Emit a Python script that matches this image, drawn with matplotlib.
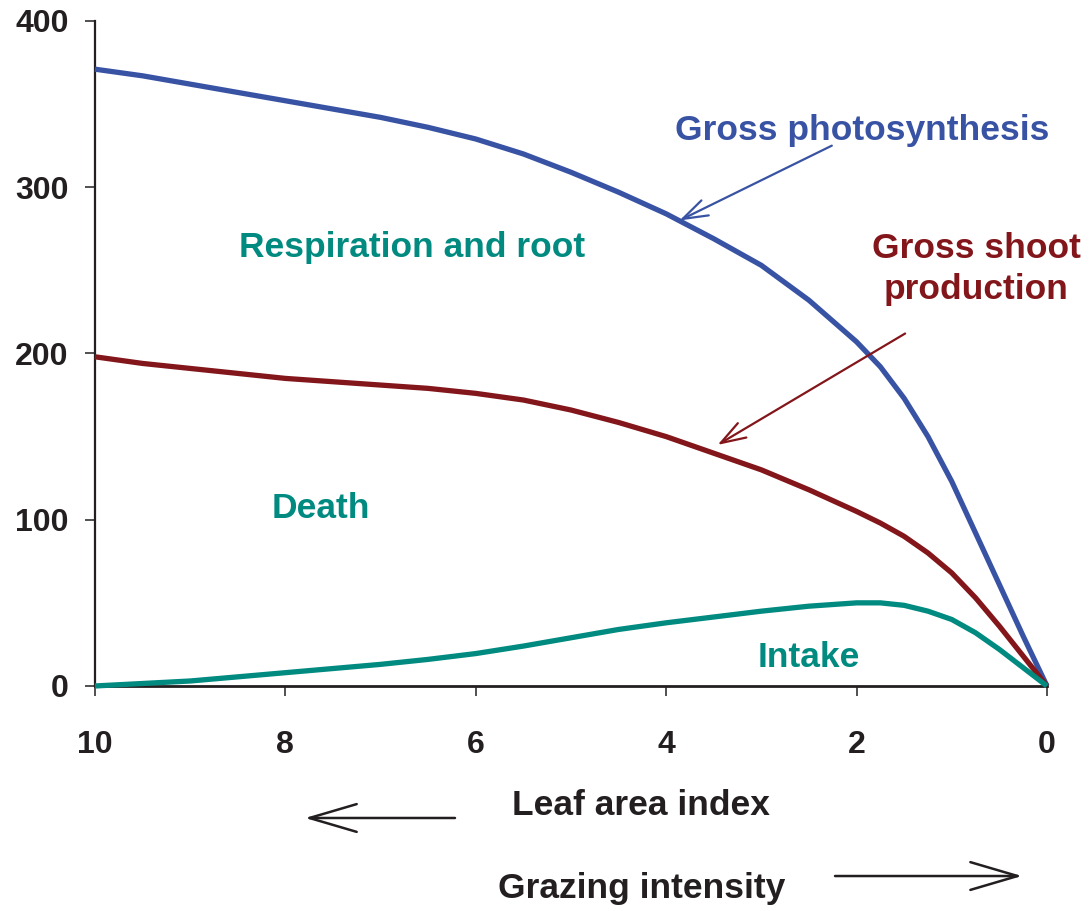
import matplotlib
matplotlib.use("Agg")
import matplotlib.pyplot as plt

plt.rcParams["font.family"] = ["Liberation Sans", "DejaVu Sans"]
plt.rcParams["font.weight"] = "bold"

# values
lai = [10, 9.5, 9, 8.5, 8, 7.5, 7, 6.5, 6, 5.5, 5, 4.5, 4, 3.5, 3, 2.5, 2,
       1.75, 1.5, 1.25, 1.0, 0.75, 0.5, 0.25, 0]
gross_photosynthesis = [371, 367, 362, 357, 352, 347, 342, 336, 329, 320, 309,
                        297, 284, 269, 253, 232, 207, 192, 173, 150, 123, 92,
                        61, 30, 0]
gross_shoot = [198, 194, 191, 188, 185, 183, 181, 179, 176, 172, 166, 158.5,
               150, 140, 130, 118, 105, 98, 90, 80, 68, 53, 36, 18, 0]
intake = [0, 1.5, 3, 5.5, 8, 10.5, 13, 16, 19.5, 24, 29, 34, 38, 41.5, 45, 48,
          50, 50, 48.5, 45, 40, 32, 22, 11, 0]

x_ticks = [10, 8, 6, 4, 2, 0]
y_ticks = [0, 100, 200, 300, 400]

blue = "#3953A4"
red = "#83161A"
teal = "#008A80"
ink = "#231f20"

fig = plt.figure(figsize=(10.89, 9.11), dpi=100)
ax = fig.add_axes([0.0872, 0.247, 0.8742, 0.730])

for ys, col, z in [(gross_photosynthesis, blue, 3), (gross_shoot, red, 3),
                   (intake, teal, 4)]:
    ax.plot(lai, ys, color=col, lw=3.8, clip_on=False, zorder=z,
            solid_joinstyle="round", solid_capstyle="butt")

ax.set_xlim(10, 0)
ax.set_ylim(0, 400)
ax.set_xticks(x_ticks)
ax.set_yticks(y_ticks)
ax.spines["top"].set_visible(False)
ax.spines["right"].set_visible(False)
ax.spines["left"].set_linewidth(1.6)
ax.spines["bottom"].set_linewidth(2.0)
ax.spines["left"].set_color(ink)
ax.spines["bottom"].set_color(ink)
ax.tick_params(axis="y", direction="out", length=7, width=1.1, pad=12,
               labelsize=23, colors=ink)
ax.tick_params(axis="x", direction="out", length=7, width=1.1, pad=25,
               labelsize=23, colors=ink)
for lab in ax.get_xticklabels() + ax.get_yticklabels():
    lab.set_fontweight("bold")

# curve labels
fs = 25.5
ax.text(1.94, 334, "Gross photosynthesis", color=blue, fontsize=fs,
        fontweight="bold", ha="center", va="center")
ax.text(0.74, 251, "Gross shoot\nproduction", color=red, fontsize=fs,
        fontweight="bold", ha="center", va="center", linespacing=1.3)
ax.text(6.67, 264, "Respiration and root", color=teal, fontsize=fs,
        fontweight="bold", ha="center", va="center")
ax.text(7.63, 107, "Death", color=teal, fontsize=fs,
        fontweight="bold", ha="center", va="center")
ax.text(2.5, 17.4, "Intake", color=teal, fontsize=fs,
        fontweight="bold", ha="center", va="center")

ax.annotate("", xy=(3.86, 280), xytext=(2.26, 325),
            arrowprops=dict(arrowstyle="->,head_length=1.8,head_width=0.6",
                            color=blue, lw=1.6, shrinkA=0, shrinkB=0))
ax.annotate("", xy=(3.46, 145), xytext=(1.49, 212),
            arrowprops=dict(arrowstyle="->,head_length=1.8,head_width=0.6",
                            color=red, lw=1.6, shrinkA=0, shrinkB=0))

# bottom axis captions
fig.text(0.5886, 0.1153, "Leaf area index", fontsize=fs, fontweight="bold",
         ha="center", va="center", color=ink)
fig.text(0.5895, 0.0252, "Grazing intensity", fontsize=fs, fontweight="bold",
         ha="center", va="center", color=ink)
ax.annotate("", xy=(0.2801, 0.1021), xytext=(0.4178, 0.1021),
            xycoords="figure fraction", textcoords="figure fraction",
            arrowprops=dict(arrowstyle="->,head_length=3.4,head_width=1.0",
                            color=ink, lw=1.8, shrinkA=0, shrinkB=0))
ax.annotate("", xy=(0.9385, 0.0384), xytext=(0.7668, 0.0384),
            xycoords="figure fraction", textcoords="figure fraction",
            arrowprops=dict(arrowstyle="->,head_length=3.4,head_width=1.0",
                            color=ink, lw=1.8, shrinkA=0, shrinkB=0))

fig.savefig("out.png", dpi=100)
